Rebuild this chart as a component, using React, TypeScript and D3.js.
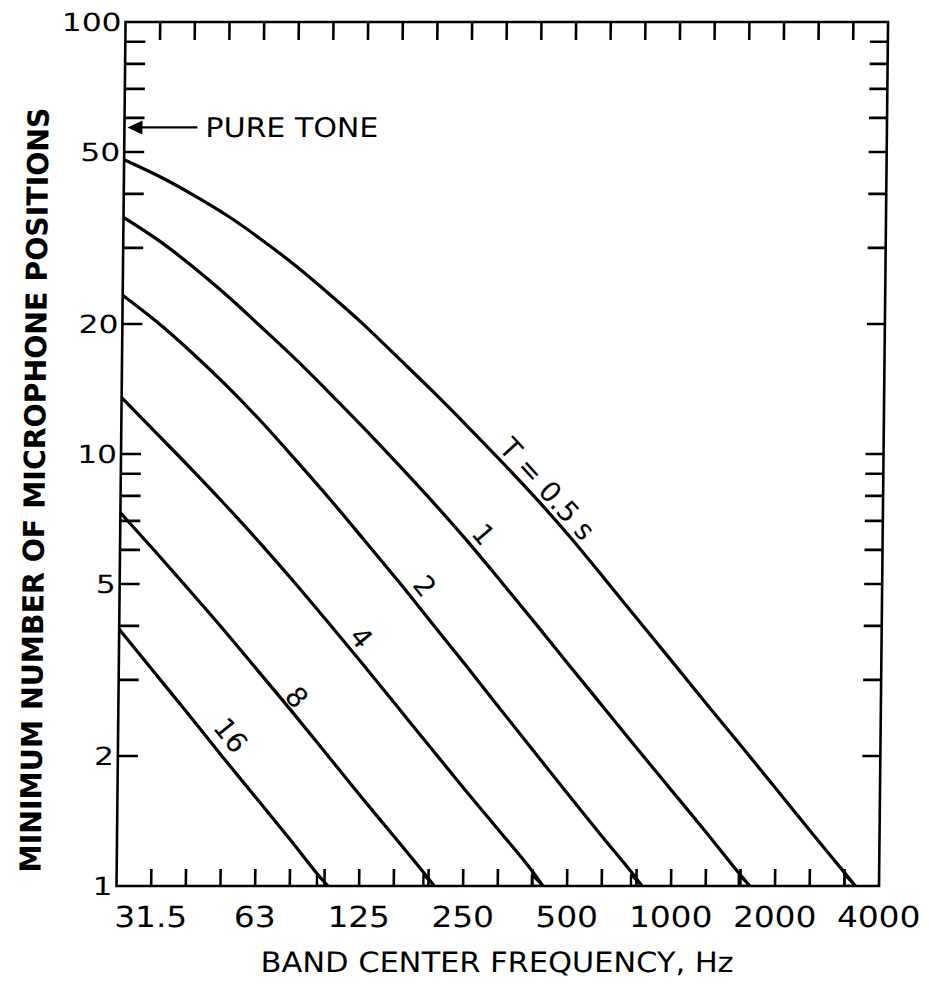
import React from "react";
import * as d3 from "d3";

// 1/3-octave band centre frequencies (Hz); the x axis is evenly spaced in bands
const bands = ["25", "31.5", "40", "50", "63", "80", "100", "125", "160", "200", "250", "315", "400", "500", "630", "800", "1000", "1250", "1600", "2000", "2500", "3150", "4000"];
const xLabelTexts = ["31.5", "63", "125", "250", "500", "1000", "2000", "4000"];
const yLabelValues = [1, 2, 5, 10, 20, 50, 100];
const yMinorTicks = [2, 3, 4, 5, 6, 7, 8, 9, 10, 20, 30, 40, 50, 60, 70, 80, 90];

// Minimum number of microphone positions per band (starting at 25 Hz), one series per reverberation time T
const n05 = [48.0, 44.0, 39.8, 35.6, 31.3, 27.2, 23.3, 19.8, 16.6, 13.9, 11.56, 9.57, 7.87, 6.40, 5.13, 4.10, 3.28, 2.62, 2.10, 1.68, 1.34, 1.074];
const n1 = [35.3, 31.3, 27.2, 23.3, 19.7, 16.6, 13.84, 11.48, 9.46, 7.76, 6.31, 5.07, 4.06, 3.24, 2.59, 2.07, 1.66, 1.33, 1.06];
const n2 = [23.3, 20.2, 17.2, 14.45, 11.97, 9.77, 7.93, 6.38, 5.12, 4.08, 3.25, 2.58, 2.05, 1.63, 1.30, 1.04];
const n4 = [13.5, 11.2, 9.29, 7.66, 6.27, 5.09, 4.10, 3.29, 2.63, 2.10, 1.68, 1.35, 1.08];
const n8 = [7.31, 5.97, 4.85, 3.93, 3.16, 2.54, 2.03, 1.62, 1.30, 1.04];
const n16 = [3.93, 3.14, 2.51, 2.00, 1.60, 1.28, 1.02];
// band position (fractional band number) where each curve reaches N = 1
const endBands = [21.32, 18.27, 15.16, 12.3, 9.17, 6.1];

const seriesValues = [n05, n1, n2, n4, n8, n16];
const seriesLabels = ["T = 0.5 s", "1", "2", "4", "8", "16"];
const labelBands = [12.0, 10.12, 8.41, 6.64, 4.86, 2.81];
const labelOffsets = [15, 17, 18, 16, 13, 20];

const pureTone = { band: 0, n: 57, text: "PURE TONE" };

const W = 929, H = 984;
const L = 116.5, R = 879, TOP = 22, BOT = 886;

export default function App() {
  const x = d3.scaleLinear().domain([0, bands.length - 1]).range([L, R]);
  const y = d3.scaleLog().domain([1, 100]).range([BOT, TOP]);

  const curves = seriesValues.map((vals, i) => {
    const pts: [number, number][] = vals.map((v, j) => [j, v]);
    pts.push([endBands[i], 1]);
    return pts;
  });

  const line = d3
    .line<[number, number]>()
    .x((d) => x(d[0]))
    .y((d) => y(d[1]))
    .curve(d3.curveMonotoneX);

  const valueAt = (pts: [number, number][], b: number) => {
    for (let i = 0; i < pts.length - 1; i++) {
      const [b0, v0] = pts[i];
      const [b1, v1] = pts[i + 1];
      if (b >= b0 && b <= b1) {
        const t = (b - b0) / (b1 - b0);
        return Math.exp(Math.log(v0) + t * (Math.log(v1) - Math.log(v0)));
      }
    }
    return pts[pts.length - 1][1];
  };

  const labels = curves.map((pts, i) => {
    const b = labelBands[i];
    const ba = b - 0.6, bb = b + 0.6;
    const xa = x(ba), ya = y(valueAt(pts, ba));
    const xb = x(bb), yb = y(valueAt(pts, bb));
    const th = Math.atan2(yb - ya, xb - xa);
    const px = x(b), py = y(valueAt(pts, b));
    const d = labelOffsets[i];
    return {
      text: seriesLabels[i],
      cx: px + d * Math.sin(th),
      cy: py - d * Math.cos(th),
      angle: (th * 180) / Math.PI,
    };
  });

  const shear = `translate(0,${BOT}) skewX(-0.6) translate(0,${-BOT})`;
  const font = "DejaVu Sans";
  const tipX = x(pureTone.band) + 3;
  const tipY = y(pureTone.n);
  const labelIdx = xLabelTexts.map((t) => bands.indexOf(t));

  return (
    <svg
      width={W}
      height={H}
      viewBox={`0 0 ${W} ${H}`}
      style={{ position: "absolute", left: 0, top: 0, background: "#fff" }}
    >
      <defs>
        <clipPath id="plot">
          <rect x={L} y={TOP} width={R - L} height={BOT - TOP} />
        </clipPath>
      </defs>
      <rect x={0} y={0} width={W} height={H} fill="#fff" />
      <g transform={shear}>
        {/* curves */}
        <g clipPath="url(#plot)">
          {curves.map((pts, i) => (
            <path key={"c" + i} d={line(pts) || ""} fill="none" stroke="#000" strokeWidth={3.2} strokeLinejoin="round" />
          ))}
          {/* small ink fillets where curves meet the bottom axis */}
          {endBands.map((b, i) => {
            const xe = x(b);
            return (
              <path
                key={"f" + i}
                d={`M${xe - 11},${BOT} L${xe - 11},${BOT - 11} L${xe},${BOT} Z`}
                fill="#fff"
                stroke="#000"
                strokeWidth={2.4}
                strokeLinejoin="round"
              />
            );
          })}
        </g>
        {/* frame */}
        <rect x={L} y={TOP} width={R - L} height={BOT - TOP} fill="none" stroke="#000" strokeWidth={2.6} />
        {/* x ticks top & bottom */}
        {bands.slice(1, bands.length - 1).map((_, i) => (
          <g key={"xt" + i}>
            <line x1={x(i + 1)} x2={x(i + 1)} y1={BOT} y2={BOT - 17} stroke="#000" strokeWidth={2.6} />
            <line x1={x(i + 1)} x2={x(i + 1)} y1={TOP} y2={TOP + 18} stroke="#000" strokeWidth={2.6} />
          </g>
        ))}
        {/* y ticks left & right */}
        {yMinorTicks.map((v, i) => (
          <g key={"yt" + i}>
            <line x1={L} x2={L + 20} y1={y(v)} y2={y(v)} stroke="#000" strokeWidth={2.6} />
            <line x1={R} x2={R - 18} y1={y(v)} y2={y(v)} stroke="#000" strokeWidth={2.6} />
          </g>
        ))}
        {/* y labels */}
        {yLabelValues.map((v, i) => (
          <text
            key={"yl" + i}
            transform={`translate(${L - 4},${y(v)}) scale(1.25,1)`}
            dy="0.36em"
            textAnchor="end"
            fontFamily={font}
            fontSize={25}
            fill="#000"
          >
            {String(v)}
          </text>
        ))}
        {/* x labels */}
        {labelIdx.map((bi, i) => (
          <text
            key={"xl" + i}
            transform={`translate(${x(bi)},927) scale(1.13,1)`}
            textAnchor="middle"
            fontFamily={font}
            fontSize={29}
            fill="#000"
          >
            {xLabelTexts[i]}
          </text>
        ))}
        {/* curve labels */}
        {labels.map((lb, i) => (
          <text
            key={"lb" + i}
            transform={`translate(${lb.cx},${lb.cy}) rotate(${lb.angle})`}
            textAnchor="middle"
            dy="0.36em"
            fontFamily={font}
            fontSize={28}
            fill="#000"
          >
            {lb.text}
          </text>
        ))}
        {/* pure tone arrow */}
        <line x1={tipX + 10} x2={tipX + 70} y1={tipY} y2={tipY} stroke="#000" strokeWidth={2.2} />
        <path
          d={`M${tipX},${tipY} L${tipX + 15},${tipY - 7} L${tipX + 15},${tipY + 7} Z`}
          fill="#000"
        />
        <text
          x={tipX + 78}
          y={tipY + 10}
          fontFamily={font}
          fontSize={27}
          textLength={173}
          lengthAdjust="spacingAndGlyphs"
          fill="#000"
        >
          {pureTone.text}
        </text>
        {/* axis titles */}
        <text
          x={498}
          y={972}
          textAnchor="middle"
          fontFamily={font}
          fontSize={28}
          textLength={473}
          lengthAdjust="spacingAndGlyphs"
          fill="#000"
        >
          BAND CENTER FREQUENCY, Hz
        </text>
        <text
          transform="translate(30,490) rotate(-90)"
          textAnchor="middle"
          dy="0.36em"
          fontFamily={font}
          fontSize={29}
          fontWeight="bold"
          textLength={765}
          lengthAdjust="spacingAndGlyphs"
          fill="#000"
        >
          MINIMUM NUMBER OF MICROPHONE POSITIONS
        </text>
      </g>
    </svg>
  );
}
